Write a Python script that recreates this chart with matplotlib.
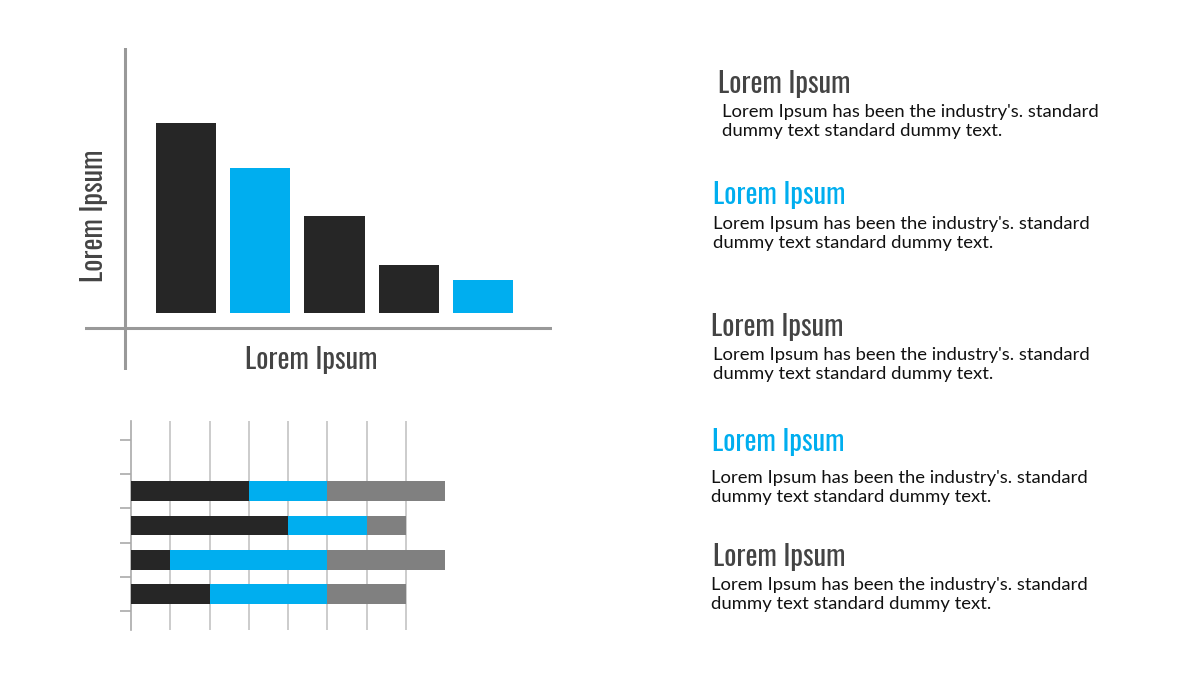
import matplotlib
matplotlib.use("Agg")
import matplotlib.pyplot as plt

# data
bar_values = [95, 72.5, 48.5, 24, 16.5]
bar_colors = ["#262626", "#00aeef", "#262626", "#262626", "#00aeef"]

stack_rows = [0.5, 1.5, 2.5, 3.5]
stack_black = [2, 1, 4, 3]
stack_blue = [3, 4, 2, 2]
stack_gray = [2, 3, 1, 3]

headings = ["Lorem Ipsum"] * 5
heading_colors = ["#444444", "#00aeef", "#444444", "#00aeef", "#444444"]
body_lines = ["Lorem Ipsum has been the industry's. standard",
              "dummy text standard dummy text."]

W, H = 1200, 675
fig = plt.figure(figsize=(12, 6.75), dpi=100)
fig.patch.set_facecolor("white")

head_font = ["Oswald", "DejaVu Sans"]
body_font = ["Lato", "DejaVu Sans"]
HEAD_SIZE = 20.5
BODY_SIZE = 13.3


def fx(x):
    return x / W


def fy(y):
    return 1 - y / H


def axes_px(x0, y0, x1, y1):
    return fig.add_axes([fx(x0), fy(y1), fx(x1) - fx(x0), fy(y0) - fy(y1)])


# top bar chart
ax = axes_px(85, 48, 552, 370)
ax.bar(range(len(bar_values)), bar_values, width=0.81, color=bar_colors)
ax.set_xlim(-1.36, 4.93)
ax.set_ylim(-28.5, 132.5)
ax.axvline(-0.82, color="#999999", lw=2.2)
ax.axhline(-7.5, color="#999999", lw=2.2)
ax.axis("off")

fig.text(fx(311), fy(369), "Lorem Ipsum", family=head_font, weight=300,
         fontsize=HEAD_SIZE, color="#444444", ha="center", va="baseline")
fig.text(fx(94), fy(216), "Lorem Ipsum", family=head_font, weight=300,
         fontsize=HEAD_SIZE, color="#444444", ha="center", va="center",
         rotation=90)

# bottom stacked bar chart
ax2 = axes_px(131, 421, 445, 630)
left = [0] * 4
for vals, c in [(stack_black, "#262626"), (stack_blue, "#00aeef"), (stack_gray, "#808080")]:
    ax2.barh(stack_rows, vals, left=left, height=0.58, color=c, zorder=3)
    left = [a + b for a, b in zip(left, vals)]
ax2.set_xlim(0, 8)
ax2.set_ylim(-0.55, 5.55)
for k in range(1, 8):
    ax2.axvline(k, color="#c4c4c4", lw=1.2, zorder=1)
for s in ["top", "right", "bottom"]:
    ax2.spines[s].set_visible(False)
ax2.spines["left"].set_color("#aaaaaa")
ax2.spines["left"].set_linewidth(1.2)
ax2.set_yticks(range(6))
ax2.set_yticklabels([])
ax2.set_xticks([])
ax2.tick_params(axis="y", length=8, width=1.2, color="#aaaaaa", direction="out")
ax2.set_facecolor("none")

# right text blocks
head_pos = [(718, 93), (713, 204), (711, 336), (712, 451), (713, 566)]
body_pos = [(722, 117), (713, 229), (713, 360), (711, 483), (711, 590)]
for t, c, (hx, hy), (bx, by) in zip(headings, heading_colors, head_pos, body_pos):
    fig.text(fx(hx), fy(hy), t, family=head_font, weight=300,
             fontsize=HEAD_SIZE, color=c, ha="left", va="baseline")
    for i, line in enumerate(body_lines):
        fig.text(fx(bx), fy(by + 19 * i), line, family=body_font,
                 fontsize=BODY_SIZE, color="#111111", ha="left", va="baseline")

fig.savefig("out.png", dpi=100)
